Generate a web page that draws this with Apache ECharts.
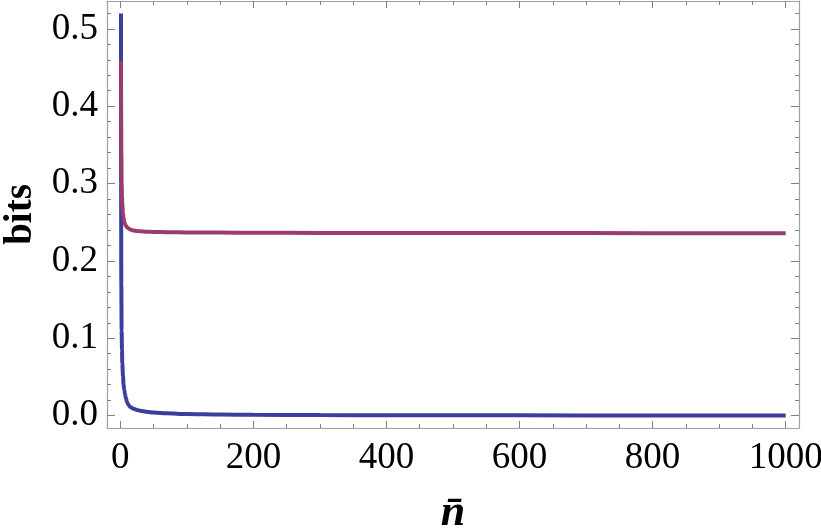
<!DOCTYPE html>
<html>
<head>
<meta charset="utf-8">
<script src="https://cdn.jsdelivr.net/npm/echarts@6/dist/echarts.min.js"></script>
<style>
  html, body { margin: 0; padding: 0; background: #fff; }
  #chart { width: 821px; height: 531px; }
</style>
</head>
<body>
<div id="chart"></div>
<script>
// mean photon number (x) and the two curves
const nbar = [1, 1.2, 1.5, 2, 2.5, 3, 4, 5, 6, 7, 8, 10, 12, 15, 20, 25, 30, 40, 50, 70, 100, 150, 200, 300, 400, 500, 600, 800, 1000]
const blueBits = [0.52, 0.30, 0.17, 0.11, 0.085, 0.068, 0.051, 0.040, 0.033, 0.028, 0.024, 0.018, 0.014, 0.011, 0.0088, 0.0074, 0.0064, 0.0049, 0.004, 0.003, 0.0021, 0.0014, 0.0011, 0.0007, 0.0005, 0.0004, 0.00035, 0.00027, 0.0002]
const redBits = [0.458, 0.40, 0.34, 0.30, 0.283, 0.273, 0.262, 0.255, 0.251, 0.248, 0.246, 0.2435, 0.242, 0.2405, 0.2393, 0.2387, 0.2383, 0.2378, 0.2375, 0.2371, 0.2368, 0.2366, 0.2364, 0.2362, 0.2361, 0.236, 0.236, 0.2359, 0.2358]

// tick values
const xMajor = [0, 200, 400, 600, 800, 1000]
const xMinor = [50, 100, 150, 250, 300, 350, 450, 500, 550, 650, 700, 750, 850, 900, 950]
const yMajor = [0, 0.1, 0.2, 0.3, 0.4, 0.5]
const yMinor = [0.02, 0.04, 0.06, 0.08, 0.12, 0.14, 0.16, 0.18, 0.22, 0.24, 0.26, 0.28, 0.32, 0.34, 0.36, 0.38, 0.42, 0.44, 0.46, 0.48, 0.52]

const X_MIN = -20, X_MAX = 1020
const Y_MIN = -0.016, Y_MAX = 0.536
const frame = '#a0a0a0'
const tickCol = '#808080'
const serif = "'Liberation Serif', 'Times New Roman', Times, serif"

function xAxisDef(pos, ticks, len, labels, line) {
    return {
        type: 'value', position: pos, min: X_MIN, max: X_MAX,
        axisLine: { show: line, onZero: false, lineStyle: { color: frame, width: 1.2 } },
        axisTick: { show: true, inside: true, length: len, customValues: ticks, lineStyle: { color: tickCol, width: 1 } },
        axisLabel: labels ? {
            show: true, customValues: ticks, margin: 12,
            fontFamily: serif, fontSize: 37, color: '#000',
            formatter: (v) => String(v),
        } : { show: false },
        splitLine: { show: false },
    }
}

function yAxisDef(pos, ticks, len, labels, line) {
    return {
        type: 'value', position: pos, min: Y_MIN, max: Y_MAX,
        axisLine: { show: line, onZero: false, lineStyle: { color: frame, width: 1.2 } },
        axisTick: { show: true, inside: true, length: len, customValues: ticks, lineStyle: { color: tickCol, width: 1 } },
        axisLabel: labels ? {
            show: true, customValues: ticks, margin: 9,
            fontFamily: serif, fontSize: 37, color: '#000',
            formatter: (v) => v.toFixed(1),
        } : { show: false },
        splitLine: { show: false },
    }
}

const xMain = xAxisDef('bottom', xMajor, 7, true, true)
xMain.name = 'n\u0304'
xMain.nameLocation = 'middle'
xMain.nameGap = 64
xMain.nameTextStyle = { fontFamily: serif, fontSize: 44, fontWeight: 'bold', fontStyle: 'italic', color: '#000' }

const yMain = yAxisDef('left', yMajor, 8, true, true)
yMain.name = 'bits'
yMain.nameLocation = 'middle'
yMain.nameGap = 66
yMain.nameTextStyle = { fontFamily: serif, fontSize: 39, fontWeight: 'bold', color: '#000' }

const chart = echarts.init(document.getElementById('chart'))

chart.setOption({
    animation: false,
    backgroundColor: '#fff',
    grid: { left: 107, right: 22, top: 1, bottom: 103, outerBoundsMode: 'none' },
    xAxis: [
        xMain,
        xAxisDef('bottom', xMinor, 4, false, false),
        xAxisDef('top', xMajor, 7, false, true),
        xAxisDef('top', xMinor, 4, false, false),
    ],
    yAxis: [
        yMain,
        yAxisDef('left', yMinor, 4, false, false),
        yAxisDef('right', yMajor, 8, false, true),
        yAxisDef('right', yMinor, 4, false, false),
    ],
    series: [
        {
            type: 'line', xAxisIndex: 0, yAxisIndex: 0,
            data: nbar.map((n, i) => [n, blueBits[i]]),
            showSymbol: false, smooth: 0.3, smoothMonotone: 'x',
            lineStyle: { color: '#3d3d9b', width: 4 },
        },
        {
            type: 'line', xAxisIndex: 0, yAxisIndex: 0,
            data: nbar.map((n, i) => [n, redBits[i]]),
            showSymbol: false, smooth: 0.3, smoothMonotone: 'x',
            lineStyle: { color: '#9b3c6e', width: 4 },
        },
    ],
})
</script>
</body>
</html>
